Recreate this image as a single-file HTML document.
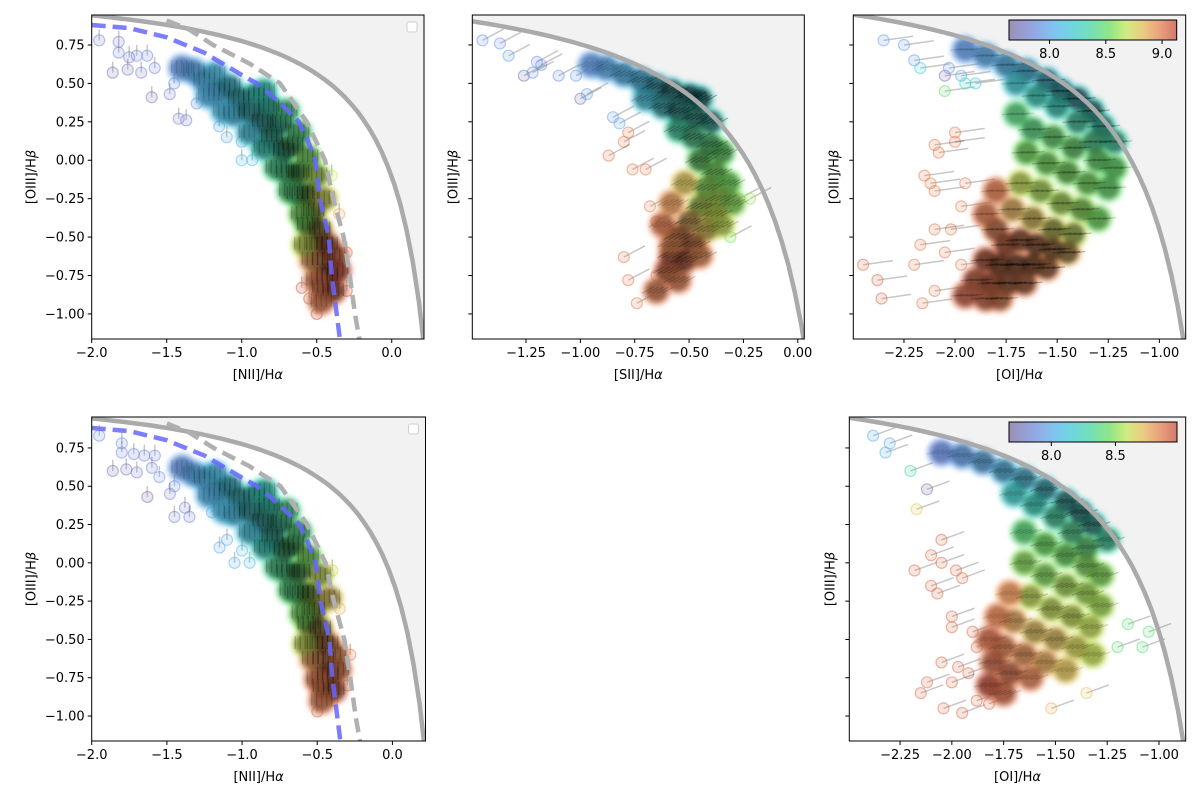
<!DOCTYPE html>
<html><head><meta charset="utf-8">
<style>
body{margin:0;background:#fff;}
svg{display:block;font-family:"DejaVu Sans","Liberation Sans",sans-serif;}
</style></head>
<body>
<svg id="fig" width="1200" height="802" viewBox="0 0 1200 802" xmlns="http://www.w3.org/2000/svg">
<defs><filter id="soft" x="-10%" y="-10%" width="120%" height="120%"><feGaussianBlur stdDeviation="2.5"/></filter></defs>
</svg>
<script>
// ---------- data (x, y, metallicity, density; density 0 = isolated point) ----------
const niiTopPts = [
[-1.95,0.78,7.8,0],[-1.82,0.77,7.8,0],[-1.82,0.70,7.85,0],[-1.75,0.67,7.8,0],[-1.70,0.68,7.85,0],[-1.63,0.68,7.85,0],[-1.58,0.60,7.85,0],[-1.86,0.57,7.7,0],[-1.76,0.59,7.75,0],[-1.67,0.57,7.8,0],[-1.60,0.41,7.7,0],[-1.48,0.43,7.8,0],[-1.42,0.27,7.8,0],[-1.37,0.26,7.8,0],[-1.45,0.50,7.9,0],[-1.30,0.37,7.9,0],[-1.10,0.15,8.0,0],[-1.15,0.22,8.0,0],[-1.00,0.00,8.1,0],[-0.93,0.00,8.1,0],[-1.00,0.12,8.05,0],[-0.90,0.07,8.1,0],[-0.70,-0.17,8.4,0],[-0.50,-1.00,9.1,0],[-0.55,-0.90,9.1,0],[-0.60,-0.83,9.1,0],[-0.30,-0.85,9.1,0],[-0.30,-0.60,9.0,0],[-0.35,-0.35,8.9,0],[-0.40,-0.10,8.7,0],
[-1.40,0.60,7.95,.35],[-1.32,0.58,8.0,.4],[-1.25,0.52,8.05,.45],[-1.18,0.56,8.1,.4],[-1.15,0.45,8.1,.55],[-1.08,0.48,8.15,.6],[-1.02,0.40,8.2,.7],[-1.05,0.30,8.1,.5],[-0.95,0.32,8.2,.75],[-0.92,0.42,8.25,.6],[-0.86,0.25,8.25,.85],[-0.82,0.35,8.3,.7],[-0.80,0.15,8.3,.85],[-0.74,0.24,8.35,.8],[-0.72,0.06,8.35,.9],[-0.66,0.10,8.45,.85],[-0.70,-0.08,8.45,.7],[-0.62,-0.08,8.5,.9],[-0.63,-0.22,8.45,.75],[-0.56,-0.22,8.6,.9],[-0.52,-0.33,8.7,.9],[-0.56,-0.42,8.55,.8],[-0.48,-0.45,8.8,.9],[-0.50,-0.55,8.85,.9],[-0.43,-0.55,9.0,.8],[-0.46,-0.65,9.0,.9],[-0.38,-0.62,9.05,.6],[-0.43,-0.75,9.05,.9],[-0.36,-0.72,9.1,.6],[-0.46,-0.83,9.05,.7],[-0.39,-0.85,9.05,.7],[-0.47,-0.92,9.0,.5],[-0.50,-0.78,9.0,.5],[-0.53,-0.65,8.9,.6],[-0.58,-0.55,8.7,.6],[-0.60,-0.35,8.55,.6],[-0.68,-0.20,8.45,.6],[-0.45,-0.25,8.75,.6],[-0.50,-0.10,8.65,.6],[-0.56,0.02,8.55,.6],[-0.62,0.18,8.45,.6],[-0.70,0.32,8.4,.55],[-0.85,0.45,8.3,.5],[-1.22,0.42,8.05,.4],[-1.12,0.32,8.1,.4],[-0.95,0.18,8.15,.5],[-0.85,0.08,8.3,.6],[-0.77,-0.05,8.4,.6]];
const niiBotPts = [
[-1.95,0.83,7.9,0],[-1.80,0.78,7.9,0],[-1.80,0.72,7.85,0],[-1.72,0.71,7.85,0],[-1.65,0.70,7.85,0],[-1.58,0.70,7.85,0],[-1.86,0.60,7.7,0],[-1.77,0.61,7.75,0],[-1.70,0.59,7.8,0],[-1.60,0.62,7.8,0],[-1.63,0.43,7.7,0],[-1.45,0.50,7.9,0],[-1.48,0.45,7.8,0],[-1.38,0.36,7.8,0],[-1.45,0.30,7.8,0],[-1.35,0.30,7.8,0],[-1.55,0.56,7.9,0],[-1.20,0.33,7.95,0],[-1.10,0.15,8.0,0],[-1.15,0.10,8.0,0],[-1.05,0.00,8.05,0],[-0.95,0.00,8.1,0],[-1.00,0.08,8.1,0],[-0.50,-0.97,9.05,0],[-0.40,-0.90,9.05,0],[-0.30,-0.80,9.05,0],[-0.28,-0.60,9.0,0],[-0.35,-0.30,8.85,0],[-0.40,-0.05,8.8,0],
[-1.40,0.62,7.95,.35],[-1.32,0.58,8.0,.4],[-1.25,0.55,8.05,.45],[-1.18,0.58,8.1,.4],[-1.15,0.47,8.1,.55],[-1.08,0.50,8.15,.6],[-1.02,0.42,8.2,.7],[-1.05,0.32,8.1,.5],[-0.95,0.34,8.2,.75],[-0.92,0.44,8.25,.6],[-0.86,0.27,8.25,.85],[-0.82,0.37,8.3,.7],[-0.80,0.17,8.3,.85],[-0.74,0.26,8.35,.8],[-0.72,0.08,8.4,.9],[-0.66,0.12,8.45,.85],[-0.70,-0.06,8.45,.7],[-0.62,-0.06,8.5,.9],[-0.63,-0.20,8.5,.75],[-0.56,-0.20,8.6,.9],[-0.52,-0.31,8.7,.9],[-0.56,-0.40,8.6,.8],[-0.48,-0.43,8.8,.9],[-0.50,-0.53,8.85,.9],[-0.43,-0.53,8.9,.8],[-0.46,-0.63,8.95,.9],[-0.38,-0.60,8.95,.6],[-0.43,-0.73,9.0,.9],[-0.36,-0.70,9.0,.6],[-0.46,-0.81,9.05,.7],[-0.39,-0.83,9.05,.7],[-0.47,-0.90,9.0,.5],[-0.50,-0.76,9.0,.5],[-0.53,-0.63,8.9,.6],[-0.58,-0.53,8.7,.6],[-0.60,-0.33,8.55,.6],[-0.68,-0.18,8.45,.6],[-0.42,-0.23,8.8,.6],[-0.48,-0.08,8.7,.6],[-0.56,0.04,8.55,.6],[-0.62,0.20,8.45,.6],[-0.70,0.34,8.4,.55],[-0.85,0.47,8.3,.5],[-1.22,0.44,8.05,.4],[-1.12,0.34,8.1,.4],[-0.95,0.20,8.15,.5],[-0.85,0.10,8.3,.6],[-0.77,-0.03,8.4,.6]];
const siiPts = [
[-1.45,0.78,7.9,0],[-1.37,0.76,7.9,0],[-1.33,0.68,7.95,0],[-1.20,0.64,7.9,0],[-1.18,0.62,7.9,0],[-1.26,0.55,7.7,0],[-1.22,0.57,7.9,0],[-1.10,0.55,7.9,0],[-1.02,0.55,7.95,0],[-1.00,0.40,7.7,0],[-0.97,0.43,7.95,0],[-0.85,0.28,7.95,0],[-0.82,0.24,8.0,0],[-0.78,0.18,9.0,0],[-0.80,0.12,9.0,0],[-0.87,0.03,9.0,0],[-0.76,-0.06,9.0,0],[-0.70,-0.06,9.0,0],[-0.68,-0.30,9.0,0],[-0.65,-0.40,9.0,0],[-0.60,-0.45,9.0,0],[-0.78,-0.78,9.0,0],[-0.80,-0.63,9.0,0],[-0.74,-0.93,9.0,0],[-0.65,-0.75,9.0,0],[-0.27,-0.25,8.6,0],[-0.22,-0.25,8.6,0],[-0.31,-0.50,8.55,0],
[-0.95,0.62,7.95,.3],[-0.88,0.60,8.0,.4],[-0.80,0.56,8.05,.5],[-0.72,0.52,8.1,.6],[-0.65,0.48,8.15,.75],[-0.58,0.45,8.2,.9],[-0.50,0.42,8.2,.95],[-0.45,0.40,8.25,.9],[-0.70,0.40,8.15,.5],[-0.62,0.35,8.2,.7],[-0.55,0.32,8.25,.85],[-0.47,0.28,8.3,.85],[-0.40,0.25,8.3,.8],[-0.55,0.20,8.35,.6],[-0.48,0.15,8.4,.7],[-0.40,0.10,8.45,.7],[-0.35,0.05,8.5,.6],[-0.45,0.00,8.5,.7],[-0.38,-0.08,8.55,.6],[-0.32,-0.15,8.55,.5],[-0.42,-0.18,8.6,.6],[-0.36,-0.25,8.65,.6],[-0.30,-0.28,8.6,.5],[-0.45,-0.30,8.7,.7],[-0.38,-0.35,8.7,.6],[-0.50,-0.40,8.85,.7],[-0.42,-0.45,8.8,.6],[-0.35,-0.42,8.7,.5],[-0.55,-0.50,9.0,.7],[-0.48,-0.55,9.0,.7],[-0.58,-0.62,9.05,.7],[-0.52,-0.65,9.05,.75],[-0.45,-0.62,8.95,.5],[-0.60,-0.72,9.05,.6],[-0.55,-0.78,9.0,.5],[-0.65,-0.85,9.0,.5],[-0.58,-0.55,8.95,.5],[-0.62,-0.42,9.0,.4],[-0.58,-0.28,8.9,.4],[-0.52,-0.15,8.8,.4]];
const oiTopPts = [
[-2.35,0.78,7.95,0],[-2.25,0.75,7.95,0],[-2.20,0.65,7.95,0],[-2.17,0.60,8.2,0],[-2.03,0.60,7.9,0],[-2.05,0.55,7.7,0],[-1.97,0.55,8.0,0],[-2.05,0.45,8.5,0],[-1.95,0.50,8.3,0],[-1.90,0.50,8.2,0],
[-2.00,0.18,9.0,0],[-2.00,0.12,9.0,0],[-2.10,0.10,9.0,0],[-2.08,0.05,9.0,0],[-2.15,-0.10,9.0,0],[-2.12,-0.15,9.0,0],[-2.10,-0.20,9.0,0],[-1.97,-0.30,9.0,0],[-1.95,-0.15,9.0,0],[-2.02,-0.45,9.0,0],[-2.10,-0.45,9.0,0],[-2.17,-0.55,9.0,0],[-2.45,-0.68,9.05,0],[-2.38,-0.78,9.05,0],[-2.36,-0.90,9.05,0],[-2.16,-0.93,9.0,0],[-2.20,-0.68,9.0,0],[-2.10,-0.85,9.0,0],[-2.05,-0.60,9.0,0],[-1.97,-0.68,9.0,0],
[-1.95,0.72,7.95,.3],[-1.85,0.68,8.0,.4],[-1.75,0.62,8.05,.5],[-1.65,0.58,8.1,.6],[-1.55,0.52,8.15,.7],[-1.48,0.45,8.2,.8],[-1.40,0.40,8.2,.85],[-1.33,0.32,8.25,.8],[-1.28,0.22,8.3,.7],[-1.22,0.12,8.35,.6],[-1.70,0.50,8.2,.4],[-1.60,0.42,8.3,.5],[-1.50,0.35,8.3,.55],[-1.40,0.25,8.35,.6],[-1.32,0.12,8.4,.6],
[-1.70,0.30,8.45,.4],[-1.62,0.20,8.45,.5],[-1.52,0.15,8.5,.55],[-1.42,0.08,8.5,.6],[-1.30,0.00,8.5,.55],[-1.22,-0.05,8.5,.5],[-1.65,0.05,8.55,.5],[-1.55,-0.02,8.55,.55],[-1.45,-0.08,8.55,.6],[-1.35,-0.15,8.55,.55],[-1.25,-0.18,8.5,.5],[-1.68,-0.15,8.7,.5],[-1.58,-0.20,8.65,.55],[-1.48,-0.28,8.65,.6],[-1.38,-0.32,8.6,.6],[-1.30,-0.38,8.55,.5],[-1.72,-0.32,8.85,.5],[-1.62,-0.38,8.8,.6],[-1.52,-0.45,8.75,.75],[-1.42,-0.48,8.7,.7],
[-1.80,-0.45,9.0,.6],[-1.75,-0.55,9.05,.7],[-1.68,-0.52,9.0,.8],[-1.60,-0.55,8.95,.9],[-1.52,-0.58,8.9,.9],[-1.45,-0.60,8.85,.8],[-1.85,-0.65,9.05,.7],[-1.78,-0.68,9.05,.85],[-1.70,-0.68,9.0,.9],[-1.62,-0.68,9.0,.9],[-1.55,-0.70,8.95,.8],[-1.90,-0.78,9.05,.6],[-1.82,-0.80,9.05,.7],[-1.74,-0.80,9.0,.8],[-1.66,-0.80,9.0,.75],[-1.95,-0.88,9.05,.5],[-1.85,-0.90,9.05,.55],[-1.78,-0.90,9.0,.6],[-1.85,-0.35,9.0,.4],[-1.80,-0.20,9.0,.35]];
const oiBotPts = [
[-2.38,0.83,8.0,0],[-2.30,0.78,8.0,0],[-2.32,0.72,8.0,0],[-2.20,0.60,8.3,0],[-2.12,0.48,7.7,0],[-2.17,0.35,8.7,0],
[-2.05,0.15,8.9,0],[-2.10,0.05,8.9,0],[-2.05,0.00,8.9,0],[-2.18,-0.05,8.9,0],[-2.10,-0.15,8.9,0],[-2.07,-0.20,8.9,0],[-1.98,-0.05,8.9,0],[-1.95,-0.10,8.9,0],[-2.00,-0.35,8.9,0],[-2.00,-0.42,8.9,0],[-1.90,-0.45,8.9,0],[-1.88,-0.55,8.9,0],[-2.05,-0.65,8.9,0],[-1.97,-0.68,8.9,0],[-1.92,-0.72,8.9,0],[-2.12,-0.78,8.9,0],[-2.00,-0.78,8.9,0],[-2.15,-0.85,8.9,0],[-2.04,-0.95,8.9,0],[-1.95,-0.98,8.9,0],[-1.88,-0.90,8.9,0],[-1.82,-0.92,8.9,0],
[-1.08,-0.55,8.4,0],[-1.05,-0.45,8.4,0],[-1.15,-0.40,8.4,0],[-1.20,-0.55,8.4,0],[-1.35,-0.85,8.7,0],[-1.52,-0.95,8.75,0],
[-2.05,0.72,7.9,.3],[-1.95,0.70,7.95,.4],[-1.85,0.66,8.0,.5],[-1.75,0.60,8.05,.55],[-1.65,0.55,8.1,.6],[-1.55,0.48,8.15,.7],[-1.45,0.40,8.2,.8],[-1.38,0.33,8.2,.85],[-1.32,0.25,8.25,.8],[-1.25,0.15,8.3,.6],[-1.70,0.45,8.2,.4],[-1.60,0.38,8.25,.5],[-1.50,0.30,8.3,.6],[-1.42,0.20,8.35,.6],[-1.35,0.10,8.4,.6],
[-1.65,0.20,8.4,.4],[-1.55,0.12,8.45,.5],[-1.45,0.05,8.45,.55],[-1.35,-0.02,8.5,.55],[-1.28,-0.08,8.5,.5],[-1.65,0.00,8.5,.45],[-1.55,-0.08,8.5,.5],[-1.45,-0.15,8.55,.55],[-1.35,-0.20,8.55,.5],[-1.28,-0.28,8.55,.45],[-1.62,-0.22,8.6,.5],[-1.52,-0.30,8.6,.55],[-1.42,-0.35,8.6,.55],[-1.33,-0.42,8.6,.45],
[-1.70,-0.38,8.75,.45],[-1.60,-0.45,8.7,.5],[-1.50,-0.50,8.7,.5],[-1.40,-0.55,8.65,.45],[-1.32,-0.60,8.6,.4],[-1.75,-0.55,8.85,.45],[-1.65,-0.60,8.8,.5],[-1.55,-0.65,8.75,.45],[-1.45,-0.70,8.7,.35],
[-1.80,-0.65,8.9,.45],[-1.72,-0.72,8.9,.5],[-1.62,-0.75,8.85,.4],[-1.82,-0.80,8.95,.45],[-1.75,-0.85,8.9,.4],[-1.82,-0.50,8.9,.35],[-1.78,-0.35,8.85,.3],[-1.72,-0.20,8.8,.3]];
// demarcation reference lines (data coords)
const kauffBlueX = [-2.0,-1.75,-1.5,-1.25,-1.0,-0.9,-0.8,-0.7,-0.62,-0.56,-0.51,-0.478,-0.42,-0.40,-0.367,-0.345];
const kauffBlueY = [0.88,0.86,0.80,0.70,0.555,0.50,0.42,0.33,0.25,0.13,0.0,-0.25,-0.5,-0.75,-1.0,-1.17];
const greyDashX = [-1.5,-1.35,-1.19,-0.95,-0.745,-0.567,-0.445,-0.39,-0.32,-0.28,-0.245,-0.215];
const greyDashY = [0.91,0.85,0.75,0.63,0.5,0.25,0.0,-0.25,-0.5,-0.75,-1.0,-1.17];
const yTicks = [-1.0,-0.75,-0.5,-0.25,0.0,0.25,0.5,0.75];
const niiTicks = [-2.0,-1.5,-1.0,-0.5,0.0];
const siiTicks = [-1.25,-1.0,-0.75,-0.5,-0.25,0.0];
const oiTicks = [-2.25,-2.0,-1.75,-1.5,-1.25,-1.0];
const cbTopTicks = [8.0,8.5,9.0];
const cbBotTicks = [8.0,8.5];

// ---------- helpers ----------
const NS="http://www.w3.org/2000/svg";
const fig=document.getElementById('fig');
function mk(tag,attrs,parent){const e=document.createElementNS(NS,tag);for(const k in attrs)e.setAttribute(k,attrs[k]);(parent||fig).appendChild(e);return e;}
const stops=[[0,[125,111,158]],[0.15,[120,140,232]],[0.3,[80,190,235]],[0.45,[60,215,190]],[0.6,[110,225,95]],[0.72,[215,235,90]],[0.85,[245,160,95]],[1,[200,80,64]]];
function cmap(t){t=Math.max(0,Math.min(1,t));for(let i=1;i<stops.length;i++){if(t<=stops[i][0]){const a=stops[i-1],b=stops[i];const f=(t-a[0])/(b[0]-a[0]);return a[1].map((v,j)=>Math.round(v+(b[1][j]-v)*f));}}return stops[stops.length-1][1];}
function fmt(v,d){const s=Math.abs(v).toFixed(d);return (v<0?'\u2212':'')+s;}

function panel(cfg){
  const g=mk('g',{});
  
  
  const X=v=>cfg.L+(v-cfg.x0)/(cfg.x1-cfg.x0)*(cfg.R-cfg.L);
  const Y=v=>cfg.T+(cfg.y1-v)/(cfg.y1-cfg.y0)*(cfg.B-cfg.T);
  const clipId='clip'+cfg.id;
  const cp=mk('clipPath',{id:clipId},g);mk('rect',{x:cfg.L,y:cfg.T,width:cfg.R-cfg.L,height:cfg.B-cfg.T},cp);
  const pg=mk('g',{'clip-path':'url(#'+clipId+')'},g);
  let pts=[];const n=60;
  for(let i=0;i<=n;i++){const x=cfg.x0+(cfg.kb-cfg.x0-0.001)*i/n;const y=cfg.ka/(x-cfg.kb)+cfg.kc;pts.push([x,y]);if(y<cfg.y0-0.05)break;}
  const cstr=pts.map(p=>X(p[0]).toFixed(1)+','+Y(Math.max(p[1],cfg.y0-0.3)).toFixed(1)).join(' ');
  const shade=mk('polygon',{points:cstr+' '+(cfg.R+5)+','+(cfg.B+5)+' '+(cfg.R+5)+','+(cfg.T-5)+' '+(cfg.L-5)+','+(cfg.T-5),fill:'#f2f2f2'},pg);
  
  
  const ang=cfg.ang*Math.PI/180;
  const sg=mk('g',{},pg);
  
  
  const hg=mk('g',{filter:'url(#soft)'},pg);
  
  
  const dg=mk('g',{filter:'url(#soft)'},pg);
  
  
  const lg2=mk('g',{},pg);
  
  
  cfg.pts.forEach(p=>{
    const px=X(p[0]),py=Y(p[1]);const t=(p[2]-cfg.z0)/(cfg.z1-cfg.z0);const c=cmap(t);
    if(p[3]===0){
      const ln=mk('line',{x1:px,y1:py,x2:px+cfg.len*Math.cos(ang),y2:py-cfg.len*Math.sin(ang),stroke:'rgba(0,0,0,0.22)','stroke-width':1.5},sg);
      
      
      const ci=mk('circle',{cx:px,cy:py,r:5.5,fill:`rgba(${c},0.18)`,stroke:`rgba(${c},0.5)`,'stroke-width':1.2},sg);
      
      
    } else {
      const h=mk('circle',{cx:px,cy:py,r:15,fill:`rgb(${c})`,'fill-opacity':0.5},hg);
      
      
      const k=1-p[3]*0.8;const cc=c.map(v=>Math.round(v*k));
      const ci=mk('circle',{cx:px,cy:py,r:11,fill:`rgb(${cc})`,'fill-opacity':0.85},dg);
      
      
      for(let j=-2;j<=2;j++){
        const ox=px+j*5,oy=py+((j*7)%5)-j*2;
        const ln=mk('line',{x1:ox-5*Math.cos(ang),y1:oy+5*Math.sin(ang),x2:ox+8*Math.cos(ang),y2:oy-8*Math.sin(ang),stroke:'#000','stroke-opacity':0.35*p[3],'stroke-width':1.2},lg2);
        
        
      }
    }
  });
  const kl=mk('polyline',{points:cstr,fill:'none',stroke:'#aaaaaa','stroke-width':4.5},pg);
  
  
  if(cfg.nii){
    const gd=mk('polyline',{points:greyDashX.map((x,i)=>X(x).toFixed(1)+','+Y(greyDashY[i]).toFixed(1)).join(' '),fill:'none',stroke:'#b0b0b0','stroke-width':4.5,'stroke-dasharray':'14,7'},pg);
    
    
    const bd=mk('polyline',{points:kauffBlueX.map((x,i)=>X(x).toFixed(1)+','+Y(kauffBlueY[i]).toFixed(1)).join(' '),fill:'none',stroke:'#6666ff','stroke-opacity':0.85,'stroke-width':4.5,'stroke-dasharray':'14,7'},pg);
    
    
    const lg=mk('rect',{x:cfg.R-17,y:cfg.T+7,width:10,height:10,rx:2,fill:'#fff',stroke:'#d0d0d0'},g);
    
    
  }
  const fr=mk('rect',{x:cfg.L,y:cfg.T,width:cfg.R-cfg.L,height:cfg.B-cfg.T,fill:'none',stroke:'#000','stroke-width':1},g);
  
  
  cfg.xt.forEach(v=>{const x=X(v);mk('line',{x1:x,y1:cfg.B,x2:x,y2:cfg.B+4,stroke:'#000'},g);
    const t=mk('text',{x:x,y:cfg.B+18,'font-size':13,'text-anchor':'middle',fill:'#000'},g);t.textContent=fmt(v,cfg.xd);
    
    });
  yTicks.forEach(v=>{const y=Y(v);mk('line',{x1:cfg.L-4,y1:y,x2:cfg.L,y2:y,stroke:'#000'},g);
    if(cfg.ylab){const t=mk('text',{x:cfg.L-7,y:y+4.5,'font-size':13,'text-anchor':'end',fill:'#000'},g);t.textContent=fmt(v,2);
    
    }});
  const xl=mk('text',{x:(cfg.L+cfg.R)/2,y:cfg.B+40,'font-size':13,'text-anchor':'middle',fill:'#000'},g);
  xl.innerHTML=cfg.xlabel+'/H<tspan font-style="italic">α</tspan>';
  
  
  const yx=cfg.ylab?cfg.L-56:cfg.L-15;const yy=(cfg.T+cfg.B)/2;
  const yl=mk('text',{x:yx,y:yy,'font-size':13,'text-anchor':'middle',fill:'#000',transform:`rotate(-90 ${yx} ${yy})`},g);
  yl.innerHTML='[OIII]/H<tspan font-style="italic">β</tspan>';
  
  
  if(cfg.cb){
    const cb=cfg.cb;const gid='grad'+cfg.id;
    const lgd=mk('linearGradient',{id:gid,x1:0,x2:1,y1:0,y2:0},g);
    for(let i=0;i<=10;i++){const c=cmap(i/10);mk('stop',{offset:i/10,'stop-color':`rgb(${c})`},lgd);}
    const r=mk('rect',{x:cb.L,y:cb.T,width:cb.R-cb.L,height:20,fill:`url(#${gid})`,'fill-opacity':0.75},g);
    
    
    mk('rect',{x:cb.L,y:cb.T,width:cb.R-cb.L,height:20,fill:'none',stroke:'#000'},g);
    cb.ticks.forEach(v=>{const x=cb.L+(v-cfg.z0)/(cfg.z1-cfg.z0)*(cb.R-cb.L);mk('line',{x1:x,y1:cb.T+20,x2:x,y2:cb.T+24,stroke:'#000'},g);
      const t=mk('text',{x:x,y:cb.T+38,'font-size':13,'text-anchor':'middle',fill:'#000'},g);t.textContent=v.toFixed(1);
      
      });
  }
}
panel({id:1,name:'panel-nii-top',L:91.7,R:424,T:15,B:339,x0:-2.0,x1:0.215,y0:-1.163,y1:0.945,ka:0.61,kb:0.47,kc:1.19,pts:niiTopPts,z0:7.64,z1:9.13,ang:90,len:11,nii:true,xt:niiTicks,xd:1,ylab:true,xlabel:'[NII]'});
panel({id:2,name:'panel-sii-top',L:472.3,R:804.3,T:15,B:339,x0:-1.497,x1:0.03,y0:-1.163,y1:0.945,ka:0.72,kb:0.32,kc:1.30,pts:siiPts,z0:7.64,z1:9.13,ang:28,len:24,nii:false,xt:siiTicks,xd:2,ylab:false,xlabel:'[SII]'});
panel({id:3,name:'panel-oi-top',L:853.3,R:1185.7,T:15,B:339,x0:-2.498,x1:-0.871,y0:-1.163,y1:0.945,ka:0.73,kb:-0.59,kc:1.33,pts:oiTopPts,z0:7.64,z1:9.13,ang:8,len:30,nii:false,xt:oiTicks,xd:2,ylab:false,xlabel:'[OI]',cb:{L:1009,R:1176.7,T:20,ticks:cbTopTicks}});
panel({id:4,name:'panel-nii-bottom',L:91.7,R:425.5,T:417,B:741,x0:-2.0,x1:0.22,y0:-1.163,y1:0.952,ka:0.61,kb:0.47,kc:1.19,pts:niiBotPts,z0:7.64,z1:9.13,ang:90,len:11,nii:true,xt:niiTicks,xd:1,ylab:true,xlabel:'[NII]'});
panel({id:5,name:'panel-oi-bottom',L:849.3,R:1185.7,T:417,B:741,x0:-2.495,x1:-0.871,y0:-1.163,y1:0.952,ka:0.73,kb:-0.59,kc:1.33,pts:oiBotPts,z0:7.67,z1:8.98,ang:20,len:24,nii:false,xt:oiTicks,xd:2,ylab:false,xlabel:'[OI]',cb:{L:1009,R:1177,T:422,ticks:cbBotTicks}});
</script>
</body></html>
